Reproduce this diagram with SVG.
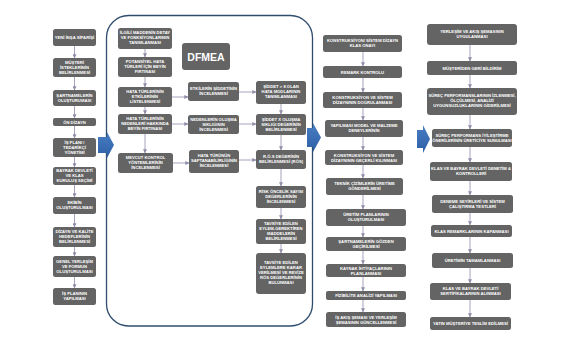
<svg xmlns="http://www.w3.org/2000/svg" width="574" height="340" viewBox="0 0 574 340">
<defs>
<style>
.n{fill:#646464}
.t{fill:#fff;font-family:"Liberation Sans",Arial,sans-serif;font-weight:bold;font-size:4.2px;text-anchor:middle}
.c{stroke:#8f8ca8;stroke-width:0.8;fill:none;marker-end:url(#ah)}
.big{fill:url(#bg)}
</style>
<marker id="ah" viewBox="0 0 6 6" refX="5.5" refY="3" markerWidth="4" markerHeight="4" orient="auto" markerUnits="userSpaceOnUse">
<path d="M0,0 L6,3 L0,6 z" fill="#8f8ca8"/>
</marker>
<linearGradient id="bg" x1="0" y1="0" x2="0" y2="1">
<stop offset="0" stop-color="#4a7fc4"/>
<stop offset="1" stop-color="#2c5ea5"/>
</linearGradient>
</defs>
<rect width="574" height="340" fill="#fff"/>

<g id="container">
<rect x="106.5" y="15.5" width="206" height="310.5" rx="22" fill="none" stroke="#2f4d6f" stroke-width="1.3"/>
</g>

<g id="bigarrows">
<path class="big" d="M98,137 H107 V132 L114,145 L107,158 V153 H98 Z"/>
<path class="big" d="M307,128 H313 V123 L321,137.5 L313,152 V147 H307 Z"/>
<path class="big" d="M417,130 H423 V125 L430,139 L423,153 V148 H417 Z"/>
</g>

<g id="connectors">
<line class="c" x1="74.5" y1="46" x2="74.5" y2="58"/>
<line class="c" x1="74.5" y1="77" x2="74.5" y2="90"/>
<line class="c" x1="74.5" y1="106" x2="74.5" y2="118"/>
<line class="c" x1="74.5" y1="126" x2="74.5" y2="138"/>
<line class="c" x1="74.5" y1="157" x2="74.5" y2="167"/>
<line class="c" x1="74.5" y1="185" x2="74.5" y2="197"/>
<line class="c" x1="74.5" y1="214" x2="74.5" y2="227"/>
<line class="c" x1="74.5" y1="247" x2="74.5" y2="256"/>
<line class="c" x1="74.5" y1="277" x2="74.5" y2="288"/>

<line class="c" x1="145" y1="49" x2="145" y2="57"/>
<line class="c" x1="145" y1="77" x2="145" y2="87"/>
<line class="c" x1="145" y1="107" x2="145" y2="114"/>
<line class="c" x1="145" y1="134" x2="145" y2="153"/>
<line class="c" x1="172" y1="97" x2="188" y2="97"/>
<line class="c" x1="239" y1="92" x2="256" y2="92"/>
<line class="c" x1="172" y1="124" x2="188" y2="124"/>
<line class="c" x1="239" y1="124" x2="256" y2="124"/>
<line class="c" x1="173" y1="163" x2="189" y2="163"/>
<line class="c" x1="239" y1="160" x2="256" y2="160"/>
<line class="c" x1="281" y1="104" x2="281" y2="114"/>
<line class="c" x1="281" y1="135" x2="281" y2="150"/>
<line class="c" x1="281" y1="169" x2="281" y2="186"/>
<line class="c" x1="281" y1="208" x2="281" y2="219"/>
<line class="c" x1="281" y1="244" x2="281" y2="253"/>

<line class="c" x1="363" y1="52" x2="363" y2="66"/>
<line class="c" x1="363" y1="78" x2="363" y2="92"/>
<line class="c" x1="363" y1="108" x2="363" y2="120"/>
<line class="c" x1="363" y1="137" x2="363" y2="150"/>
<line class="c" x1="363" y1="165" x2="363" y2="178"/>
<line class="c" x1="363" y1="195" x2="363" y2="209"/>
<line class="c" x1="363" y1="226" x2="363" y2="237"/>
<line class="c" x1="363" y1="251" x2="363" y2="264"/>
<line class="c" x1="363" y1="277" x2="363" y2="291"/>
<line class="c" x1="363" y1="300" x2="363" y2="312"/>

<line class="c" x1="470" y1="45" x2="470" y2="61"/>
<line class="c" x1="470" y1="75" x2="470" y2="88"/>
<line class="c" x1="470" y1="115" x2="470" y2="129"/>
<line class="c" x1="470" y1="147" x2="470" y2="162"/>
<line class="c" x1="470" y1="181" x2="470" y2="195"/>
<line class="c" x1="470" y1="213" x2="470" y2="225"/>
<line class="c" x1="470" y1="237" x2="470" y2="253"/>
<line class="c" x1="470" y1="268" x2="470" y2="283"/>
<line class="c" x1="470" y1="300" x2="470" y2="317"/>
</g>

<!-- Column 1 -->
<g id="k1"><rect class="n" x="53" y="29" width="43" height="17" rx="2.5"/><text class="t" x="74.5" y="39">YENİ İNŞA SİPARİŞİ</text></g>
<g id="k2"><rect class="n" x="53" y="58" width="43" height="19" rx="2.5"/><text class="t" x="74.5" y="63.5">MÜŞTERİ<tspan x="74.5" dy="5">İSTEKLERİNİN</tspan><tspan x="74.5" dy="5">BELİRLENMESİ</tspan></text></g>
<g id="k3"><rect class="n" x="53" y="90" width="43" height="16" rx="2.5"/><text class="t" x="74.5" y="97">ŞARTNAMELERİN<tspan x="74.5" dy="5">OLUŞTURUMASI</tspan></text></g>
<g id="k4"><rect class="n" x="53" y="118" width="43" height="8" rx="2"/><text class="t" x="74.5" y="123.5">ÖN DİZAYN</text></g>
<g id="k5"><rect class="n" x="53" y="138" width="43" height="19" rx="2.5"/><text class="t" x="74.5" y="143.5">İŞ PLANI /<tspan x="74.5" dy="5">TEDARİKÇİ</tspan><tspan x="74.5" dy="5">YÖNETİMİ</tspan></text></g>
<g id="k6"><rect class="n" x="53" y="167" width="43" height="18" rx="2.5"/><text class="t" x="74.5" y="172">BAYRAK DEVLETİ<tspan x="74.5" dy="5">VE KLAS</tspan><tspan x="74.5" dy="5">KURULUŞ SEÇİMİ</tspan></text></g>
<g id="k7"><rect class="n" x="53" y="197" width="43" height="17" rx="2.5"/><text class="t" x="74.5" y="204">EKİBİN<tspan x="74.5" dy="5">OLUŞTURULMASI</tspan></text></g>
<g id="k8"><rect class="n" x="53" y="227" width="43" height="20" rx="2.5"/><text class="t" x="74.5" y="233">DİZAYN VE KALİTE<tspan x="74.5" dy="5">HEDEFLERİNİN</tspan><tspan x="74.5" dy="5">BELİRLENMESİ</tspan></text></g>
<g id="k9"><rect class="n" x="53" y="256" width="43" height="21" rx="2.5"/><text class="t" x="74.5" y="262.5">GENEL YERLEŞİM<tspan x="74.5" dy="5">VE  FORMUN</tspan><tspan x="74.5" dy="5">OLUŞTURULMASI</tspan></text></g>
<g id="k10"><rect class="n" x="53" y="288" width="43" height="17" rx="2.5"/><text class="t" x="74.5" y="295">İŞ PLANININ<tspan x="74.5" dy="5">YAPILMASI</tspan></text></g>

<!-- DFMEA -->
<g id="dfmea"><rect class="n" x="182" y="43" width="48" height="27" rx="3"/><text x="206" y="60.5" fill="#fff" font-family="Liberation Sans, Arial, sans-serif" font-weight="bold" font-size="10.5" text-anchor="middle">DFMEA</text></g>
<g id="a1"><rect class="n" x="118" y="28" width="54" height="21" rx="2.5"/><text class="t" x="145" y="34">İLGİLİ MADDENİN DETAY<tspan x="145" dy="5">VE FONKSİYONLARININ</tspan><tspan x="145" dy="5">TANIMLANMASI</tspan></text></g>
<g id="a2"><rect class="n" x="118" y="57" width="54" height="20" rx="2.5"/><text class="t" x="145" y="63">POTANSİYEL HATA<tspan x="145" dy="5">TÜRLERİ İÇİN BEYİN</tspan><tspan x="145" dy="5">FIRTINASI</tspan></text></g>
<g id="a3"><rect class="n" x="118" y="87" width="54" height="20" rx="2.5"/><text class="t" x="145" y="93">HATA TÜRLERİNİN<tspan x="145" dy="5">ETKİLERİNİN</tspan><tspan x="145" dy="5">LİSTELENMESİ</tspan></text></g>
<g id="a4"><rect class="n" x="118" y="114" width="54" height="20" rx="2.5"/><text class="t" x="145" y="120">HATA TÜRLERİNİN<tspan x="145" dy="5">NEDENLERİ HAKKINDA</tspan><tspan x="145" dy="5">BEYİN FIRTINASI</tspan></text></g>
<g id="a5"><rect class="n" x="118" y="153" width="55" height="20" rx="2.5"/><text class="t" x="145.5" y="159">MEVCUT KONTROL<tspan x="145.5" dy="5">YÖNTEMLERİNİN</tspan><tspan x="145.5" dy="5">İNCELENMESİ</tspan></text></g>
<g id="b1"><rect class="n" x="188" y="82" width="51" height="19" rx="2.5"/><text class="t" x="213.5" y="90">ETKİLERİN ŞİDDETİNİN<tspan x="213.5" dy="5">İNCELENMESİ</tspan></text></g>
<g id="b2"><rect class="n" x="188" y="115" width="51" height="19" rx="2.5"/><text class="t" x="213.5" y="120.5">NEDENLERİN OLUŞMA<tspan x="213.5" dy="5">SIKLIĞININ</tspan><tspan x="213.5" dy="5">İNCELENMESİ</tspan></text></g>
<g id="b3"><rect class="n" x="189" y="150" width="50" height="23" rx="2.5"/><text class="t" x="214" y="157">HATA TÜRÜNÜN<tspan x="214" dy="5">SAPTANABİLİRLİĞİNİN</tspan><tspan x="214" dy="5">İNCELENMESİ</tspan></text></g>
<g id="c1"><rect class="n" x="256" y="81" width="50" height="23" rx="2.5"/><text class="t" x="281" y="88">ŞİDDET &gt; 8 OLAN<tspan x="281" dy="5">HATA MODLARININ</tspan><tspan x="281" dy="5">TANIMLANMASI</tspan></text></g>
<g id="c2"><rect class="n" x="256" y="114" width="50" height="21" rx="2.5"/><text class="t" x="281" y="120.5">ŞİDDET X OLUŞMA<tspan x="281" dy="5">SIKLIĞI DEĞERİNİN</tspan><tspan x="281" dy="5">BELİRLENMESİ</tspan></text></g>
<g id="c3"><rect class="n" x="256" y="150" width="50" height="19" rx="2.5"/><text class="t" x="281" y="158">R.Ö.S DEĞERİNİN<tspan x="281" dy="5">BELİRLENMESİ (RÖS)</tspan></text></g>
<g id="c4"><rect class="n" x="256" y="186" width="50" height="22" rx="2.5"/><text class="t" x="281" y="192.5">RİSK ÖNCELİK SAYISI<tspan x="281" dy="5">DEĞERLERİNİN</tspan><tspan x="281" dy="5">İNCELENMESİ</tspan></text></g>
<g id="c5"><rect class="n" x="256" y="219" width="50" height="25" rx="2.5"/><text class="t" x="281" y="224.5">TAVSİYE EDİLEN<tspan x="281" dy="5">EYLEM-GEREKTİREN</tspan><tspan x="281" dy="5">MADDELERİN</tspan><tspan x="281" dy="5">BELİRLENMESİ</tspan></text></g>
<g id="c6"><rect class="n" x="256" y="253" width="50" height="41" rx="3"/><text class="t" x="281" y="264">TAVSİYE EDİLEN<tspan x="281" dy="5">EYLEMLERE KARAR</tspan><tspan x="281" dy="5">VERİLMESİ VE REVİZE</tspan><tspan x="281" dy="5">RÖS DEĞERLERİNİN</tspan><tspan x="281" dy="5">BULUNMASI</tspan></text></g>

<!-- Column 3 -->
<g id="d1"><rect class="n" x="323" y="35" width="79" height="17" rx="2.5"/><text class="t" x="362.5" y="42">KONSTRUKSİYON/ SİSTEM DİZAYN<tspan x="362.5" dy="5">KLAS ONAYI</tspan></text></g>
<g id="d2"><rect class="n" x="323" y="66" width="79" height="12" rx="2.5"/><text class="t" x="362.5" y="73.5">REMARK  KONTROLU</text></g>
<g id="d3"><rect class="n" x="323" y="92" width="79" height="16" rx="2.5"/><text class="t" x="362.5" y="99">KONSTRUKSİYON VE SİSTEM<tspan x="362.5" dy="5">DİZAYNININ DOĞRULANMASI</tspan></text></g>
<g id="d4"><rect class="n" x="325" y="120" width="78" height="17" rx="2.5"/><text class="t" x="364" y="127">YAPILMASI MODEL VE MALZEME<tspan x="364" dy="5">DENEYLERİNİN</tspan></text></g>
<g id="d5"><rect class="n" x="325" y="150" width="78" height="15" rx="2.5"/><text class="t" x="364" y="156.5">KONSTRUKSİYON VE SİSTEM<tspan x="364" dy="5">DİZAYNININ  GEÇERLİ KILINMASI</tspan></text></g>
<g id="d6"><rect class="n" x="326" y="178" width="77" height="17" rx="2.5"/><text class="t" x="364.5" y="185">TEKNİK ÇİZİMLERİN ÜRETİME<tspan x="364.5" dy="5">GÖNDERİLMESİ</tspan></text></g>
<g id="d7"><rect class="n" x="326" y="209" width="80" height="17" rx="2.5"/><text class="t" x="366" y="216">ÜRETİM PLANLARININ<tspan x="366" dy="5">OLUŞTURULMASI</tspan></text></g>
<g id="d8"><rect class="n" x="326" y="237" width="80" height="14" rx="2.5"/><text class="t" x="366" y="243">ŞARTNAMELERİN GÖZDEN<tspan x="366" dy="5">GEÇİRİLMESİ</tspan></text></g>
<g id="d9"><rect class="n" x="326" y="264" width="80" height="13" rx="2.5"/><text class="t" x="366" y="269.5">KAYNAK İHTİYAÇLARININ<tspan x="366" dy="5">PLANLANMASI</tspan></text></g>
<g id="d10"><rect class="n" x="326" y="291" width="80" height="9" rx="2"/><text class="t" x="366" y="297">FİZİBİLİTE ANALİZİ YAPILMASI</text></g>
<g id="d11"><rect class="n" x="326" y="312" width="80" height="15" rx="2.5"/><text class="t" x="366" y="318.5">İŞ AKIŞ ŞEMASI VE YERLEŞİM<tspan x="366" dy="5">ŞEMASININ GÜNCELLENMESİ</tspan></text></g>

<!-- Column 4 -->
<g id="e1"><rect class="n" x="427" y="24" width="90" height="21" rx="3"/><text class="t" x="472" y="33">YERLEŞİM VE AKIŞ ŞEMASININ<tspan x="472" dy="5">UYGULANMASI</tspan></text></g>
<g id="e2"><rect class="n" x="427" y="61" width="90" height="14" rx="2.5"/><text class="t" x="472" y="69.5">MÜŞTERİDEN GERİ BİLDİRİM</text></g>
<g id="e3"><rect class="n" x="427" y="88" width="90" height="27" rx="3"/><text class="t" x="472" y="97">SÜREÇ PERFORMANSLARININ İZLENMESİ,<tspan x="472" dy="5">ÖLÇÜLMESİ, ANALİZİ</tspan><tspan x="472" dy="5">UYGUNSUZLUKLARININ GİDERİLMESİ</tspan></text></g>
<g id="e4"><rect class="n" x="432" y="129" width="80" height="18" rx="2.5"/><text class="t" x="472" y="136.5">SÜREÇ PERFORMANS  İYİLEŞTİRME<tspan x="472" dy="5">ÖNERİLERİNİN ÜRETİCİYE SUNULMASI</tspan></text></g>
<g id="e5"><rect class="n" x="430" y="162" width="82" height="19" rx="2.5"/><text class="t" x="471" y="169.5">KLAS VE BAYRAK DEVLETİ DENETİM &amp;<tspan x="471" dy="5">KONTROLLERİ</tspan></text></g>
<g id="e6"><rect class="n" x="432" y="195" width="81" height="18" rx="2.5"/><text class="t" x="472.5" y="202.5">DENEME SEYİRLERİ VE SİSTEM<tspan x="472.5" dy="5">ÇALIŞTIRMA TESTLERİ</tspan></text></g>
<g id="e7"><rect class="n" x="431" y="225" width="81" height="12" rx="2.5"/><text class="t" x="471.5" y="232.5">KLAS REMARKLARININ KAPANMASI</text></g>
<g id="e8"><rect class="n" x="432" y="253" width="81" height="15" rx="2.5"/><text class="t" x="472.5" y="262">ÜRETİMİN TAMAMLANMASI</text></g>
<g id="e9"><rect class="n" x="430" y="283" width="81" height="17" rx="2.5"/><text class="t" x="470.5" y="290">KLAS VE BAYRAK DEVLETİ<tspan x="470.5" dy="5">SERTİFİKALARININ ALINMASI</tspan></text></g>
<g id="e10"><rect class="n" x="430" y="317" width="81" height="13" rx="2.5"/><text class="t" x="470.5" y="325">YATIN MÜŞTERİYE TESLİM EDİLMESİ</text></g>
</svg>
